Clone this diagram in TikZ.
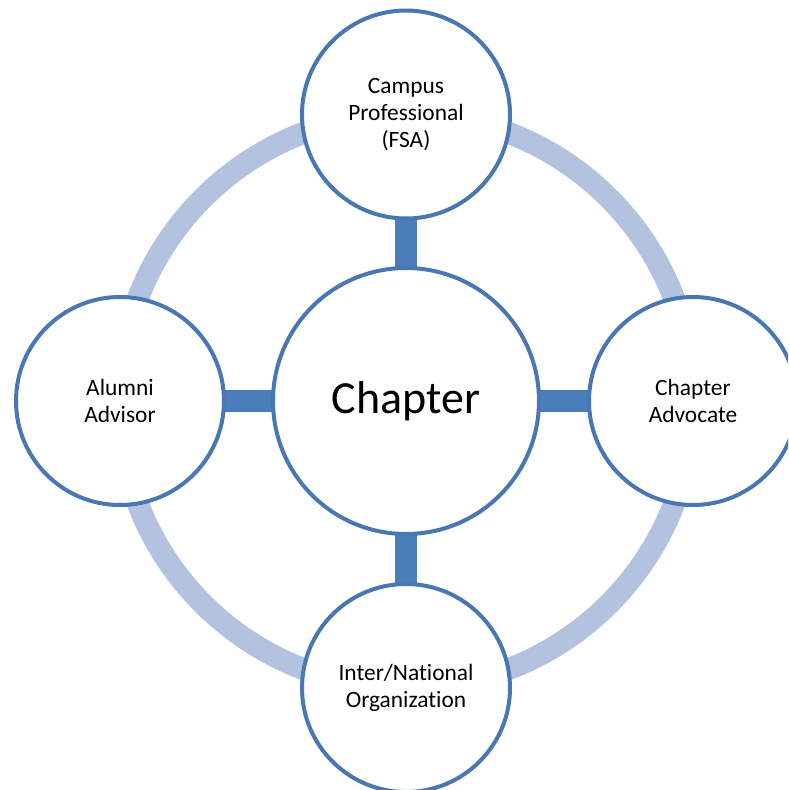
\documentclass[tikz,border=0pt]{standalone}
\usepackage{fontspec}
\setmainfont{Carlito}[Ligatures=NoCommon]
\usetikzlibrary{backgrounds}
\definecolor{ringblue}{HTML}{B3C3DF}
\definecolor{barblue}{HTML}{4A7EBB}
\definecolor{edgeblue}{HTML}{4877B3}
\tikzset{
  satellite/.style={circle, draw=edgeblue, line width=4pt, fill=white, minimum size=208pt, inner sep=0pt, align=center, font=\fontsize{23.4}{26.8}\selectfont},
  hub/.style={circle, draw=edgeblue, line width=4pt, fill=white, minimum size=266pt, inner sep=0pt, font=\fontsize{46}{52}\selectfont},
  ringline/.style={draw=ringblue, line width=22pt},
  barline/.style={draw=barblue, line width=22pt}
}
\begin{document}
\begin{tikzpicture}[x=1pt,y=-1pt]
\useasboundingbox (0,0) rectangle (788,790);
\clip (0,0) rectangle (788,790);
\node[hub] (c) at (406,401) {Chapter};
\node[satellite] (t) at (406,114.5) {Campus\\Professional\\(FSA)};
\node[satellite] (r) at (693,401) {Chapter\\Advocate};
\node[satellite] (b) at (406,688) {Inter/National\\Organization};
\node[satellite] (l) at (120,401) {Alumni\\Advisor};
\begin{scope}[on background layer]
  \path[ringline] (c.center) circle (287);
  \draw[barline] (c.center) -- (t.center);
  \draw[barline] (c.center) -- (r.center);
  \draw[barline] (c.center) -- (b.center);
  \draw[barline] (c.center) -- (l.center);
\end{scope}
\end{tikzpicture}
\end{document}
